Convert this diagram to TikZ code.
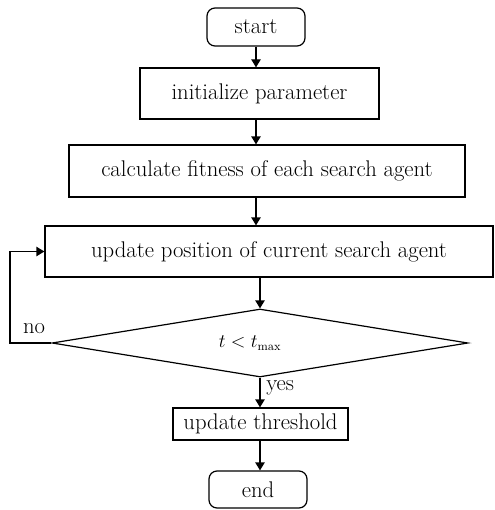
\documentclass[tikz,border=0pt]{standalone}
\usetikzlibrary{shapes.geometric,arrows.meta}
\begin{document}
\begin{tikzpicture}[
      x=0.75pt, y=-0.75pt,
      linet/.style={line width=0.9pt, draw=black,
        shorten >=0pt, shorten <=0pt, -{Triangle[length=6pt,width=7pt]}},
      termbox/.style={rectangle, rounded corners=6pt, draw, line width=0.9pt,
        inner sep=0pt, minimum width=73.5pt, text centered},
      procbox/.style={rectangle, draw, line width=0.9pt, inner sep=0pt,
        text centered},
      decbox/.style={diamond, aspect=8, draw, line width=0.9pt, inner sep=0pt,
        minimum width=312pt, minimum height=51pt}
    ]
    \fontsize{17}{20}\selectfont
    \useasboundingbox (0,0) rectangle (494,510);
    \path (256,27) node(start) [termbox, minimum height=28.5pt] {start}
    (259.5,93.5) node(init) [procbox, minimum width=179.25pt, minimum height=38.25pt] {initialize parameter}
    (267,171) node(calc) [procbox, minimum width=297pt, minimum height=39pt] {calculate fitness of each search agent}
    (269,251.5) node(upd) [procbox, minimum width=336pt, minimum height=38.25pt] {update position of current search agent}
    (260,343) node(dec) [decbox] {}
    (250,343) node(cond) [font=\fontsize{13.5}{16}\selectfont] {$t<t_{\max}$}
    (260.5,424) node(thr) [procbox, minimum width=131.25pt, minimum height=24pt] {update threshold}
    (258,489.5) node(end) [termbox, minimum height=27.75pt] {end};
    \coordinate (loop) at (10,252);
    \draw[linet] (start.south) -- (start.south |- init.north);
    \draw[linet] (start.south |- init.south) -- (start.south |- calc.north);
    \draw[linet] (start.south |- calc.south) -- (start.south |- upd.north);
    \draw[linet] (dec.north |- upd.south) -- (dec.north);
    \draw[linet] (dec.south) -- (dec.south |- thr.north);
    \draw[linet] (dec.south |- thr.south) -- (dec.south |- end.north);
    \draw[linet] (dec.west) -| (loop) |- (upd.west);
    \path (34,329) node(no) {no}
    (266,388) node(yes) [anchor=west, inner sep=0pt] {yes};
  \end{tikzpicture}
\end{document}
